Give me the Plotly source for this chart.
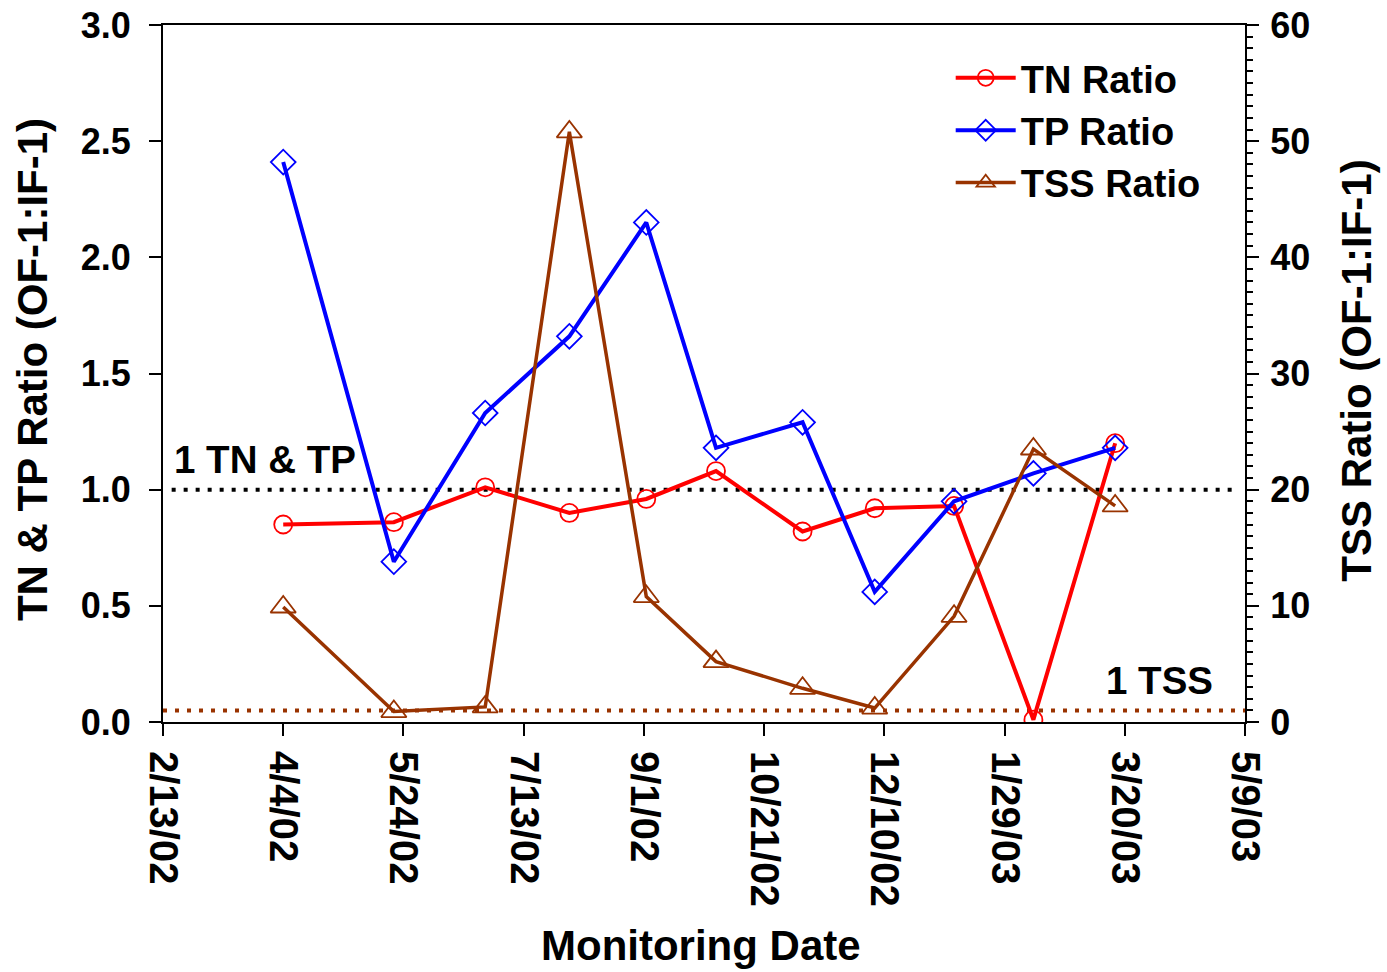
import plotly.graph_objects as go

# ---- data ----
sample_dates = ["2002-04-04", "2002-05-20", "2002-06-27", "2002-08-01", "2002-09-02",
                "2002-10-01", "2002-11-06", "2002-12-06", "2003-01-08", "2003-02-10",
                "2003-03-16"]
tn_ratio = [0.85, 0.86, 1.01, 0.90, 0.96, 1.08, 0.82, 0.92, 0.93, 0.01, 1.20]
tp_ratio = [2.41, 0.69, 1.33, 1.66, 2.15, 1.18, 1.29, 0.56, 0.95, 1.07, 1.18]
tss_ratio = [9.9, 0.9, 1.3, 50.8, 10.8, 5.2, 2.9, 1.2, 9.1, 23.5, 18.6]

x_tick_dates = ["2002-02-13", "2002-04-04", "2002-05-24", "2002-07-13", "2002-09-01",
                "2002-10-21", "2002-12-10", "2003-01-29", "2003-03-20", "2003-05-09"]
x_tick_labels = ["2/13/02", "4/4/02", "5/24/02", "7/13/02", "9/1/02",
                 "10/21/02", "12/10/02", "1/29/03", "3/20/03", "5/9/03"]
x_range = ["2002-02-13", "2003-05-09"]
left_range = [0, 3]
right_range = [0, 60]
ref_tn_tp = 1.0
ref_tss = 1.0

FONT = "Liberation Sans, Arial, sans-serif"
RED = "#FF0000"
BLUE = "#0000FF"
BROWN = "#993300"

fig = go.Figure()

fig.add_trace(go.Scatter(
    x=sample_dates, y=tn_ratio, name="TN Ratio", mode="lines+markers",
    line=dict(color=RED, width=4),
    marker=dict(symbol="circle-open", size=18, color=RED, line=dict(width=1.8, color=RED)),
    yaxis="y"))
fig.add_trace(go.Scatter(
    x=sample_dates, y=tp_ratio, name="TP Ratio", mode="lines+markers",
    line=dict(color=BLUE, width=4),
    marker=dict(symbol="diamond-open", size=19, color=BLUE, line=dict(width=1.8, color=BLUE)),
    yaxis="y"))
fig.add_trace(go.Scatter(
    x=sample_dates, y=tss_ratio, name="TSS Ratio", mode="lines+markers",
    line=dict(color=BROWN, width=3.5),
    marker=dict(symbol="triangle-up-open", size=22, color=BROWN, line=dict(width=1.8, color=BROWN)),
    yaxis="y2"))

# reference lines
fig.add_shape(type="line", xref="paper", yref="y", x0=0.008, x1=0.995, y0=ref_tn_tp, y1=ref_tn_tp,
              line=dict(color="black", width=4, dash="4px,8px"), layer="below")
fig.add_shape(type="line", xref="paper", yref="y2", x0=0.0, x1=1.0, y0=ref_tss, y1=ref_tss,
              line=dict(color=BROWN, width=4, dash="4px,8px"), layer="below")

ytickfont = dict(family=FONT, size=36, color="black", weight="bold")
xtickfont = dict(family=FONT, size=40, color="black", weight="bold")

fig.update_layout(
    width=1387, height=972,
    margin=dict(l=163, r=142, t=25, b=250, autoexpand=False),
    paper_bgcolor="white", plot_bgcolor="white",
    font=dict(family=FONT, color="black", weight="bold"),
    showlegend=True,
    legend=dict(x=0.728, y=0.969, xanchor="left", yanchor="top",
                font=dict(family=FONT, size=38, color="black", weight="bold"),
                bgcolor="rgba(0,0,0,0)", borderwidth=0, itemwidth=60,
                tracegroupgap=0),
    xaxis=dict(type="date", range=x_range, tickvals=x_tick_dates, ticktext=x_tick_labels,
               tickangle=90, tickfont=xtickfont, ticks="outside", ticklen=12, tickwidth=2,
               tickcolor="black", showline=True, linecolor="black", linewidth=2, mirror=True,
               showgrid=False, zeroline=False, ticklabelstandoff=7, automargin=False,
               ticklabeloverflow="allow"),
    yaxis=dict(range=left_range, dtick=0.5, tick0=0, tickformat=".1f", tickfont=ytickfont,
               ticks="outside", ticklen=12, tickwidth=2, tickcolor="black",
               showline=True, linecolor="black", linewidth=2, showgrid=False, zeroline=False,
               ticklabelstandoff=11, automargin=False, ticklabeloverflow="allow"),
    yaxis2=dict(range=right_range, dtick=10, tick0=0, overlaying="y", side="right",
                tickfont=ytickfont, ticks="outside", ticklen=12, tickwidth=2, tickcolor="black",
                showline=True, linecolor="black", linewidth=2, showgrid=False, zeroline=False,
                minor=dict(dtick=1, ticks="outside", ticklen=6, tickwidth=1.5, tickcolor="black",
                           showgrid=False),
                ticklabelstandoff=4, automargin=False, ticklabeloverflow="allow"),
)

title_font = dict(family=FONT, size=42, color="black", weight="bold")
fig.add_annotation(text="Monitoring Date", xref="paper", yref="paper", x=0.497, y=-0.3204,
                   xanchor="center", yanchor="middle", showarrow=False, font=title_font)
fig.add_annotation(text="TN & TP Ratio (OF-1:IF-1)", xref="paper", yref="paper", x=-0.121, y=0.505,
                   xanchor="center", yanchor="middle", textangle=-90, showarrow=False, font=title_font)
fig.add_annotation(text="TSS Ratio (OF-1:IF-1)", xref="paper", yref="paper", x=1.1035, y=0.504,
                   xanchor="center", yanchor="middle", textangle=-90, showarrow=False, font=title_font)

note_font = dict(family=FONT, size=38.5, color="black", weight="bold")
fig.add_annotation(text="1 TN & TP", xref="paper", yref="y", x=0.008, y=1.0, yshift=30,
                   xanchor="left", yanchor="middle", showarrow=False, font=note_font)
fig.add_annotation(text="1 TSS", xref="paper", yref="y2", x=0.9723, y=1.0, yshift=30,
                   xanchor="right", yanchor="middle", showarrow=False, font=note_font)

# remove the default 8px page margin so the figure fills the window exactly
fig.write_html("out.html",
               config={"displayModeBar": False},
               post_script="document.body.style.margin='0';document.body.style.overflow='hidden';")
